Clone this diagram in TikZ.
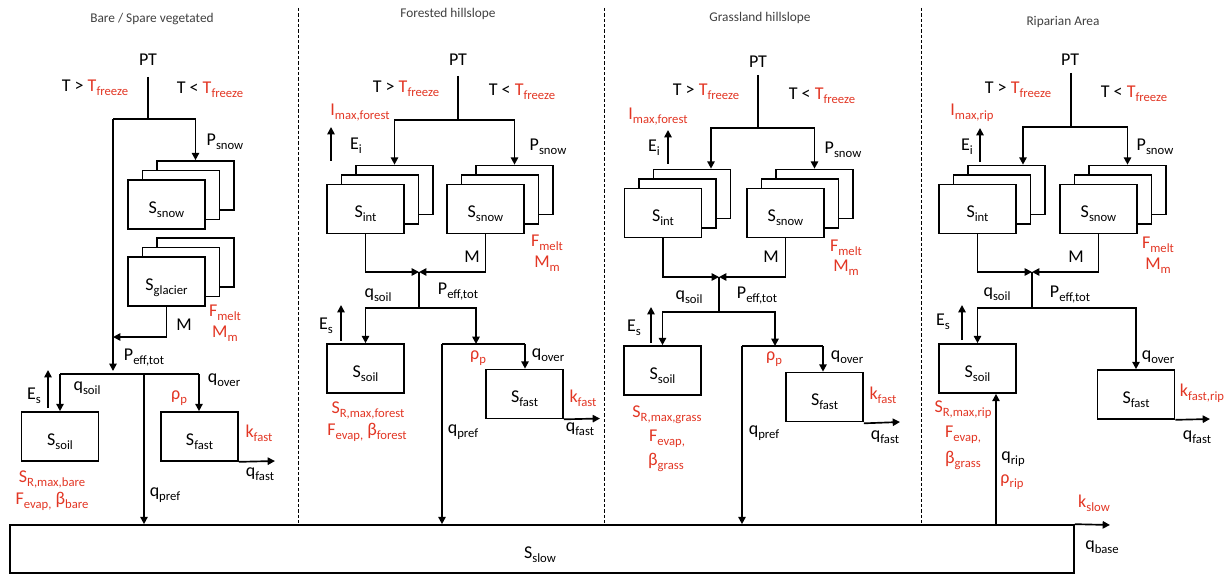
\documentclass[tikz,border=0pt]{standalone}
\usepackage{fontspec}
\setmainfont{Carlito}
\usetikzlibrary{arrows.meta}
\definecolor{myred}{RGB}{226,54,36}
\definecolor{ttlgray}{RGB}{64,64,64}
\newcommand{\subt}[1]{\raisebox{-3pt}{\fontsize{9.5}{10}\selectfont #1}}
\newcommand{\rd}[1]{\textcolor{myred}{#1}}
\newcommand{\stk}[4]{%
  \node[box] (#1b) at (#2+29,#3-19) {};
  \node[box] (#1m) at (#2+14.5,#3-9.5) {};
  \node[box] (#1) at (#2,#3) {#4};
}
\begin{document}
\begin{tikzpicture}[x=0.75pt,y=-0.75pt,line width=1.25pt,
  txt/.style={inner sep=0pt,font=\fontsize{13.5}{16}\selectfont},
  rtxt/.style={txt,text=myred},
  ttl/.style={inner sep=0pt,font=\fontsize{10}{12}\selectfont,text=ttlgray},
  box/.style={draw,fill=white,minimum width=57.75pt,minimum height=36.75pt,inner sep=0pt,text height=13pt,text depth=0pt,font=\fontsize{13.5}{16}\selectfont},
  arr/.style={-{Triangle[length=5.5pt,width=5.5pt]}},
  sepline/.style={line width=0.75pt,dash pattern=on 2.4pt off 1.6pt}]
\useasboundingbox (0,0) rectangle (1227,574);

% slow reservoir
\node[draw,minimum width=798pt,minimum height=36pt,inner sep=0pt] (slow) at (542,549) {};
\node[txt] (slowlbl) at (540,555) {S\subt{slow}};
\coordinate (qb) at (1110,525);
\draw[arr] (slow.north east) -- (qb);
\node[txt] (qbase) at (1102,547) {q\subt{base}};
\node[rtxt] (kslow) at (1094,503) {k\subt{slow}};

% separators
\coordinate (d1) at (298,8);
\coordinate (d2) at (604,8);
\coordinate (d3) at (921,8);
\draw[sepline] (d1) -- (d1 |- slow.north);
\draw[sepline] (d2) -- (d2 |- slow.north);
\draw[sepline] (d3) -- (d3 |- slow.north);

% ================= Column 1 =================
\node[ttl] (t1) at (152,19) {Bare / Spare vegetated};
\node[txt] (pt1) at (148,60) {PT};
\node[txt] (gt1) at (95,88) {T > \rd{T\subt{freeze}}};
\node[txt] (lt1) at (210,90) {T < \rd{T\subt{freeze}}};
\coordinate (pts1) at (148,77);
\coordinate (j1) at (148,119);
\coordinate (l1) at (113,119);
\stk{snowA}{166.5}{204.5}{S\subt{snow}}
\stk{glacA}{166.5}{281.5}{S\subt{glacier}}
\draw (pts1) -- (j1);
\draw[arr] (l1) -| (snowAb.north);
\node[txt] (ps1) at (225,142) {P\subt{snow}};
\node[rtxt] (fm1) at (225,313) {F\subt{melt}};
\node[rtxt] (mm1) at (225,334) {M\subt{m}};
\node[txt] (ml1) at (184,325) {M};
\coordinate (mj1) at (113,337);
\coordinate (pe1) at (113,371);
\draw[arr] (l1) -- (pe1);
\draw[arr] (glacA.south) |- (mj1);
\node[txt] (peff1) at (144,358) {P\subt{eff,tot}};
\node[box] (soilA) at (60,436.5) {S\subt{soil}};
\node[box] (fastA) at (199.5,436.5) {S\subt{fast}};
\coordinate (h1l) at (60,374);
\coordinate (h1r) at (199,374);
\coordinate (h1m) at (144,374);
\draw (h1l) -- (h1r);
\draw[arr] (h1l) -- (soilA.north);
\draw[arr] (h1r) -- (h1r |- fastA.north);
\draw[arr] (h1m) -- (h1m |- slow.north);
\coordinate (es1a) at (48,408);
\coordinate (es1b) at (48,370);
\draw[arr] (es1a) -- (es1b);
\node[txt] (es1) at (34,396) {E\subt{s}};
\node[txt] (qs1) at (87,388) {q\subt{soil}};
\node[txt] (qo1) at (224,380) {q\subt{over}};
\node[rtxt] (rp1) at (179,398) {ρ\subt{p}};
\node[rtxt] (kf1) at (259,433) {k\subt{fast}};
\coordinate (qf1e) at (275,461);
\draw[arr] (fastA.south east) -- (qf1e);
\node[txt] (qf1) at (260,474) {q\subt{fast}};
\node[rtxt] (sr1) at (52,479) {S\subt{R,max,bare}};
\node[rtxt] (fe1) at (52,501) {F\subt{evap,} β\subt{bare}};
\node[txt] (qp1) at (165,495) {q\subt{pref}};

% ================= Column 2 =================
\node[ttl] (t2) at (448,14) {Forested hillslope};
\node[txt] (pt2) at (458,60) {PT};
\node[txt] (gt2) at (406,89) {T > \rd{T\subt{freeze}}};
\node[txt] (lt2) at (522,92) {T < \rd{T\subt{freeze}}};
\coordinate (pts2) at (458,76);
\coordinate (j2) at (458,120);
\stk{intB}{365.5}{209}{S\subt{int}}
\stk{snowB}{485.5}{209}{S\subt{snow}}
\draw (pts2) -- (j2);
\draw[arr] (j2) -| (intBb.north);
\draw[arr] (j2) -| (snowBb.north);
\node[rtxt] (im2) at (360,113) {I\subt{max,forest}};
\coordinate (ei2a) at (331,161);
\coordinate (ei2b) at (331,127);
\draw[arr] (ei2a) -- (ei2b);
\node[txt] (ei2) at (356,146) {E\subt{i}};
\node[txt] (ps2) at (548,147) {P\subt{snow}};
\node[rtxt] (fm2) at (547,243) {F\subt{melt}};
\node[rtxt] (mm2) at (547,264) {M\subt{m}};
\node[txt] (ml2) at (472,257) {M};
\coordinate (jm2) at (419,272);
\draw[arr] (intB.south) |- (jm2);
\draw[arr] (snowB.south) |- (jm2);
\node[box] (soilB) at (365.5,368.5) {S\subt{soil}};
\node[box] (fastB) at (524.5,394) {S\subt{fast}};
\coordinate (h2m) at (419,308);
\coordinate (pl2) at (442,344);
\coordinate (pr2) at (525,344);
\coordinate (pa2) at (476,344);
\draw (jm2) -- (h2m);
\draw[arr] (h2m) -| (soilB.north);
\draw[arr] (h2m) -| (pa2);
\draw (pl2) -- (pr2);
\draw[arr] (pr2) -- (pr2 |- fastB.north);
\draw[arr] (pl2) -- (pl2 |- slow.north);
\node[txt] (qs2) at (378,295) {q\subt{soil}};
\node[txt] (peff2) at (458,292) {P\subt{eff,tot}};
\coordinate (es2a) at (341,341);
\coordinate (es2b) at (341,305);
\draw[arr] (es2a) -- (es2b);
\node[txt] (es2) at (326,326) {E\subt{s}};
\node[rtxt] (sr2) at (368,410) {S\subt{R,max,forest}};
\node[rtxt] (fe2) at (367,432) {F\subt{evap,} β\subt{forest}};
\node[rtxt] (rp2) at (478,358) {ρ\subt{p}};
\node[txt] (qo2) at (548,355) {q\subt{over}};
\node[rtxt] (kf2) at (583,398) {k\subt{fast}};
\coordinate (qf2e) at (600,418.5);
\draw[arr] (fastB.south east) -- (qf2e);
\node[txt] (qf2) at (580,429) {q\subt{fast}};
\node[txt] (qp2) at (463,432) {q\subt{pref}};

% ================= Column 3 =================
\node[ttl] (t3) at (760,18) {Grassland hillslope};
\node[txt] (pt3) at (758,62) {PT};
\node[txt] (gt3) at (706,92) {T > \rd{T\subt{freeze}}};
\node[txt] (lt3) at (822,96) {T < \rd{T\subt{freeze}}};
\coordinate (pts3) at (758,75);
\coordinate (j3) at (758,128);
\coordinate (ia3) at (711,128);
\stk{intC}{663}{213}{S\subt{int}}
\stk{snowC}{785.5}{213}{S\subt{snow}}
\draw (pts3) -- (j3);
\draw[arr] (j3) -- (ia3) -- (ia3 |- intCb.north);
\draw[arr] (j3) -| (snowCb.north);
\node[rtxt] (im3) at (658,117) {I\subt{max,forest}};
\coordinate (ei3a) at (668,164);
\coordinate (ei3b) at (668,130);
\draw[arr] (ei3a) -- (ei3b);
\node[txt] (ei3) at (654,148) {E\subt{i}};
\node[txt] (ps3) at (843,150) {P\subt{snow}};
\node[rtxt] (fm3) at (846,248) {F\subt{melt}};
\node[rtxt] (mm3) at (846,268) {M\subt{m}};
\node[txt] (ml3) at (771,257) {M};
\coordinate (jm3) at (719,277);
\draw[arr] (intC.south) |- (jm3);
\draw[arr] (snowC.south) |- (jm3);
\node[box] (soilC) at (662.5,370.5) {S\subt{soil}};
\node[box] (fastC) at (824.5,397) {S\subt{fast}};
\coordinate (h3m) at (719,312);
\coordinate (pl3) at (742,346);
\coordinate (pr3) at (823,346);
\coordinate (pa3) at (775,346);
\draw (jm3) -- (h3m);
\draw[arr] (h3m) -| (soilC.north);
\draw[arr] (h3m) -| (pa3);
\draw (pl3) -- (pr3);
\draw[arr] (pr3) -- (pr3 |- fastC.north);
\draw[arr] (pl3) -- (pl3 |- slow.north);
\node[txt] (qs3) at (689,297) {q\subt{soil}};
\node[txt] (peff3) at (757,296) {P\subt{eff,tot}};
\coordinate (es3a) at (651,343);
\coordinate (es3b) at (651,307);
\draw[arr] (es3a) -- (es3b);
\node[txt] (es3) at (634,328) {E\subt{s}};
\node[rtxt] (sr3) at (667,415) {S\subt{R,max,grass}};
\node[rtxt] (fe3) at (667,439) {F\subt{evap,}};
\node[rtxt] (bg3) at (666,462) {β\subt{grass}};
\node[rtxt] (rp3) at (774,359) {ρ\subt{p}};
\node[txt] (qo3) at (847,357) {q\subt{over}};
\node[rtxt] (kf3) at (883,395) {k\subt{fast}};
\coordinate (qf3e) at (900,422);
\draw[arr] (fastC.south east) ++(0,1) -- (qf3e);
\node[txt] (qf3) at (885,437) {q\subt{fast}};
\node[txt] (qp3) at (764,433) {q\subt{pref}};

% ================= Column 4 =================
\node[ttl] (t4) at (1063,22) {Riparian Area};
\node[txt] (pt4) at (1070,60) {PT};
\node[txt] (gt4) at (1018,90) {T > \rd{T\subt{freeze}}};
\node[txt] (lt4) at (1134,94) {T < \rd{T\subt{freeze}}};
\coordinate (pts4) at (1071,73);
\coordinate (j4) at (1071,127);
\coordinate (ia4) at (1023,127);
\stk{intD}{977.5}{209}{S\subt{int}}
\stk{snowD}{1098.5}{209}{S\subt{snow}}
\draw (pts4) -- (j4);
\draw[arr] (j4) -- (ia4) -- (ia4 |- intDb.north);
\draw[arr] (j4) -| (snowDb.north);
\node[rtxt] (im4) at (972,113) {I\subt{max,rip}};
\coordinate (ei4a) at (980,162);
\coordinate (ei4b) at (980,128);
\draw[arr] (ei4a) -- (ei4b);
\node[txt] (ei4) at (967,147) {E\subt{i}};
\node[txt] (ps4) at (1155,147) {P\subt{snow}};
\node[rtxt] (fm4) at (1158,245) {F\subt{melt}};
\node[rtxt] (mm4) at (1158,266) {M\subt{m}};
\node[txt] (ml4) at (1076,257) {M};
\coordinate (jm4) at (1032,272);
\draw[arr] (intD.south) |- (jm4);
\draw[arr] (snowD.south) |- (jm4);
\node[box] (soilD) at (977.5,368.5) {S\subt{soil}};
\node[box] (fastD) at (1136,394.5) {S\subt{fast}};
\coordinate (h4m) at (1032,308);
\draw (jm4) -- (h4m);
\draw[arr] (h4m) -| (soilD.north);
\draw[arr] (h4m) -| (fastD.north);
\node[txt] (qs4) at (997,294) {q\subt{soil}};
\node[txt] (peff4) at (1070,295) {P\subt{eff,tot}};
\coordinate (es4a) at (962,340);
\coordinate (es4b) at (962,305);
\draw[arr] (es4a) -- (es4b);
\node[txt] (es4) at (943,322) {E\subt{s}};
\node[rtxt] (sr4) at (963,410) {S\subt{R,max,rip}};
\node[rtxt] (fe4) at (963,435) {F\subt{evap,}};
\node[rtxt] (bg4) at (963,460) {β\subt{grass}};
\coordinate (qr4) at (996,450);
\draw[arr] (qr4 |- slow.north) -- (qr4 |- soilD.south);
\node[txt] (qrip) at (1013,459) {q\subt{rip}};
\node[rtxt] (rrip) at (1012,482) {ρ\subt{rip}};
\node[txt] (qo4) at (1158,357) {q\subt{over}};
\node[rtxt] (kf4) at (1202,393) {k\subt{fast,rip}};
\coordinate (qf4e) at (1210,419);
\draw[arr] (fastD.south east) -- (qf4e);
\node[txt] (qf4) at (1197,437) {q\subt{fast}};
\end{tikzpicture}
\end{document}
